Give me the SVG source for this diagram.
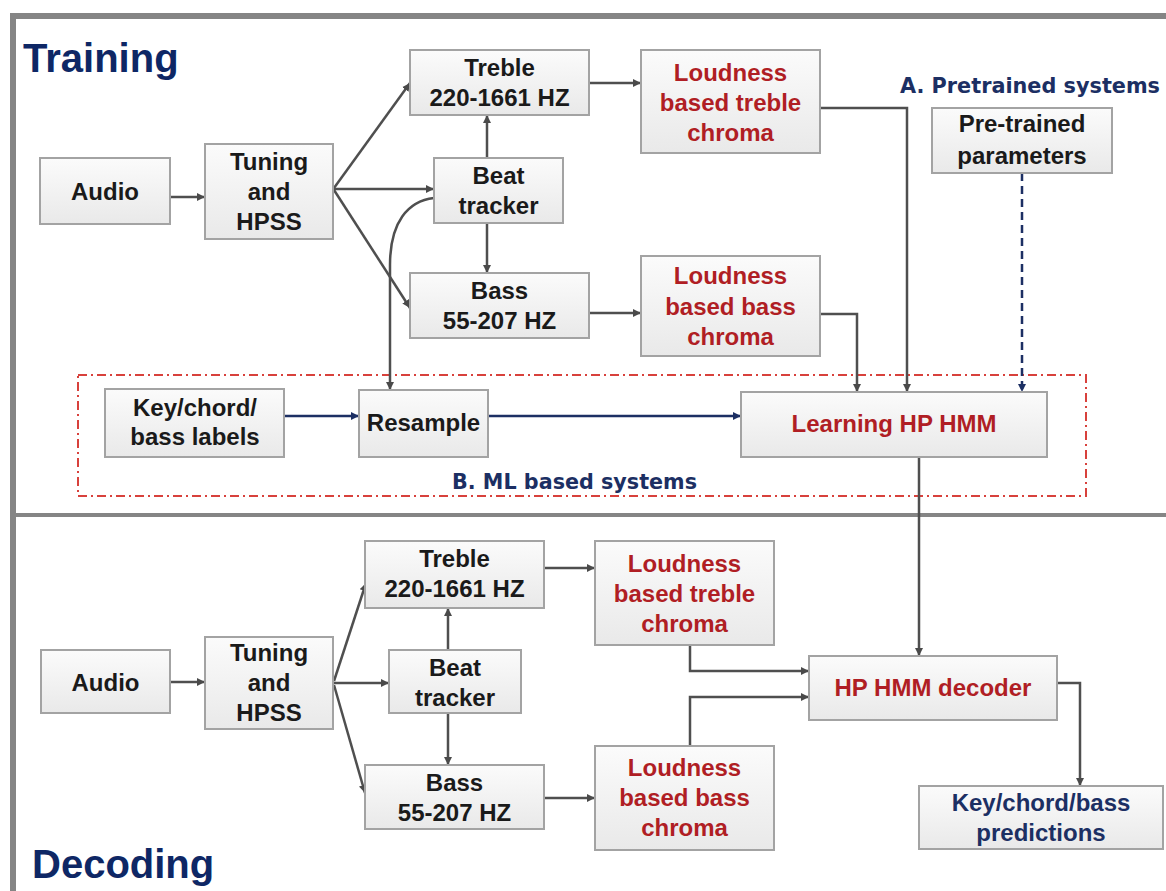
<svg xmlns="http://www.w3.org/2000/svg" width="1166" height="891" viewBox="0 0 1166 891">
<defs>
<linearGradient id="bg" x1="0" y1="0" x2="0" y2="1">
<stop offset="0" stop-color="#fbfbfb"/>
<stop offset="1" stop-color="#e9e9e9"/>
</linearGradient>
<marker id="ah" markerUnits="userSpaceOnUse" markerWidth="9" markerHeight="9" refX="8" refY="4.5" orient="auto">
<path d="M0,0.5 L8,4.5 L0,8.5 z" fill="#4a4a4a"/>
</marker>
<marker id="ahb" markerUnits="userSpaceOnUse" markerWidth="9" markerHeight="9" refX="8" refY="4.5" orient="auto">
<path d="M0,0.5 L8,4.5 L0,8.5 z" fill="#1c2f63"/>
</marker>
<style>
.box{fill:url(#bg);stroke:#a3a3a3;stroke-width:2}
.t{font-family:"Liberation Sans",Arial,sans-serif;font-weight:bold;font-size:24px;fill:#1a1a1a;text-anchor:middle}
.r{fill:#b01e24}
.n{fill:#1c2f63}
.title{font-family:"Liberation Sans",Arial,sans-serif;font-weight:bold;font-size:40px;fill:#0e2765}
.sub{font-family:"DejaVu Sans",Verdana,sans-serif;font-weight:bold;font-size:21px;fill:#1c2f63}
.c{fill:none;stroke:#4f4f4f;stroke-width:2.5;marker-end:url(#ah)}
.cn{fill:none;stroke:#4f4f4f;stroke-width:2.5}
.cb{fill:none;stroke:#1c2f63;stroke-width:2.5;marker-end:url(#ahb)}
.frame{fill:none;stroke:#858585}
</style>
</defs>
<rect width="1166" height="891" fill="#ffffff"/>
<g id="frame">
<path class="frame" d="M10,16 H1166" stroke-width="6"/>
<path class="frame" d="M13,13 V891" stroke-width="6"/>
<path class="frame" d="M13,515 H1166" stroke-width="4"/>
</g>
<g id="labels">
<text class="title" x="23" y="72">Training</text>
<text class="title" x="32" y="878">Decoding</text>
<text class="sub" x="900" y="93" textLength="260" lengthAdjust="spacingAndGlyphs">A. Pretrained systems</text>
<text class="sub" x="452" y="489" textLength="245" lengthAdjust="spacingAndGlyphs">B. ML based systems</text>
</g>
<g id="ml-region">
<rect x="78" y="375" width="1008" height="121" fill="none" stroke="#d8413c" stroke-width="2" stroke-dasharray="9,4,2,4"/>
</g>
<g id="connectors">
<path class="c" d="M170,197 H205"/>
<path class="c" d="M334,188 L410,83"/>
<path class="c" d="M334,189 H434"/>
<path class="c" d="M334,190 L410,308"/>
<path class="c" d="M487,158 V115"/>
<path class="c" d="M487,223 V273"/>
<path class="c" d="M589,83 H641"/>
<path class="c" d="M589,313 H641"/>
<path class="c" d="M434,198 C408,201 390,222 390,265 L390,390"/>
<path class="c" d="M820,108 H907 V392"/>
<path class="c" d="M820,314 H857 V392"/>
<path class="cb" d="M1022,173 V392" stroke-dasharray="8,5"/>
<path class="cb" d="M284,416 H359"/>
<path class="cb" d="M488,416 H741"/>
<path class="c" d="M919,457 V656"/>
<path class="c" d="M170,682 H205"/>
<path class="c" d="M334,681 L366,583"/>
<path class="c" d="M334,683 H389"/>
<path class="c" d="M334,685 L365,793"/>
<path class="c" d="M448,650 V608"/>
<path class="c" d="M448,713 V765"/>
<path class="c" d="M544,568 H595"/>
<path class="c" d="M544,798 H595"/>
<path class="c" d="M690,645 V671 H809"/>
<path class="c" d="M690,746 V697 H809"/>
<path class="c" d="M1057,683 H1080 V786"/>
</g>
<g id="n-audio-t">
<rect class="box" x="40" y="158" width="130" height="66"/>
<text class="t" x="105" y="199.5">Audio</text>
</g>
<g id="n-tuning-t">
<rect class="box" x="205" y="144" width="128" height="95"/>
<text class="t" x="269" y="169.5">Tuning</text>
<text class="t" x="269" y="199.5">and</text>
<text class="t" x="269" y="229.5">HPSS</text>
</g>
<g id="n-treble-t">
<rect class="box" x="410" y="50" width="179" height="65"/>
<text class="t" x="499.5" y="75.5">Treble</text>
<text class="t" x="499.5" y="105.5">220-1661 HZ</text>
</g>
<g id="n-beat-t">
<rect class="box" x="434" y="158" width="129" height="65"/>
<text class="t" x="498.5" y="183.5">Beat</text>
<text class="t" x="498.5" y="213.5">tracker</text>
</g>
<g id="n-bass-t">
<rect class="box" x="410" y="273" width="179" height="65"/>
<text class="t" x="499.5" y="298.5">Bass</text>
<text class="t" x="499.5" y="328.5">55-207 HZ</text>
</g>
<g id="n-ltreble-t">
<rect class="box" x="641" y="50" width="179" height="103"/>
<text class="t r" x="730.5" y="80.5">Loudness</text>
<text class="t r" x="730.5" y="110.5">based treble</text>
<text class="t r" x="730.5" y="140.5">chroma</text>
</g>
<g id="n-lbass-t">
<rect class="box" x="641" y="256" width="179" height="100"/>
<text class="t r" x="730.5" y="284">Loudness</text>
<text class="t r" x="730.5" y="314.5">based bass</text>
<text class="t r" x="730.5" y="345">chroma</text>
</g>
<g id="n-pretrained">
<rect class="box" x="932" y="108" width="180" height="65"/>
<text class="t" x="1022" y="131.5">Pre-trained</text>
<text class="t" x="1022" y="163.5">parameters</text>
</g>
<g id="n-labels">
<rect class="box" x="105" y="389" width="179" height="68"/>
<text class="t" x="195" y="416">Key/chord/</text>
<text class="t" x="195" y="445">bass labels</text>
</g>
<g id="n-resample">
<rect class="box" x="359" y="390" width="129" height="67"/>
<text class="t" x="423.5" y="430.5">Resample</text>
</g>
<g id="n-learning">
<rect class="box" x="741" y="392" width="306" height="65"/>
<text class="t r" x="894" y="431.5">Learning HP HMM</text>
</g>
<g id="n-audio-d">
<rect class="box" x="41" y="650" width="129" height="63"/>
<text class="t" x="105.5" y="690.5">Audio</text>
</g>
<g id="n-tuning-d">
<rect class="box" x="205" y="637" width="128" height="92"/>
<text class="t" x="269" y="660.5">Tuning</text>
<text class="t" x="269" y="690.5">and</text>
<text class="t" x="269" y="720.5">HPSS</text>
</g>
<g id="n-treble-d">
<rect class="box" x="365" y="541" width="179" height="67"/>
<text class="t" x="454.5" y="566.5">Treble</text>
<text class="t" x="454.5" y="596.5">220-1661 HZ</text>
</g>
<g id="n-beat-d">
<rect class="box" x="389" y="650" width="132" height="63"/>
<text class="t" x="455" y="675.5">Beat</text>
<text class="t" x="455" y="705.5">tracker</text>
</g>
<g id="n-bass-d">
<rect class="box" x="365" y="765" width="179" height="64"/>
<text class="t" x="454.5" y="790.5">Bass</text>
<text class="t" x="454.5" y="820.5">55-207 HZ</text>
</g>
<g id="n-ltreble-d">
<rect class="box" x="595" y="541" width="179" height="104"/>
<text class="t r" x="684.5" y="571.5">Loudness</text>
<text class="t r" x="684.5" y="601.5">based treble</text>
<text class="t r" x="684.5" y="631.5">chroma</text>
</g>
<g id="n-lbass-d">
<rect class="box" x="595" y="746" width="179" height="104"/>
<text class="t r" x="684.5" y="775.5">Loudness</text>
<text class="t r" x="684.5" y="805.5">based bass</text>
<text class="t r" x="684.5" y="835.5">chroma</text>
</g>
<g id="n-decoder">
<rect class="box" x="809" y="656" width="248" height="64"/>
<text class="t r" x="933" y="695.5">HP HMM decoder</text>
</g>
<g id="n-predictions">
<rect class="box" x="919" y="786" width="244" height="63"/>
<text class="t n" x="1041" y="810.5">Key/chord/bass</text>
<text class="t n" x="1041" y="840.5">predictions</text>
</g>
</svg>
